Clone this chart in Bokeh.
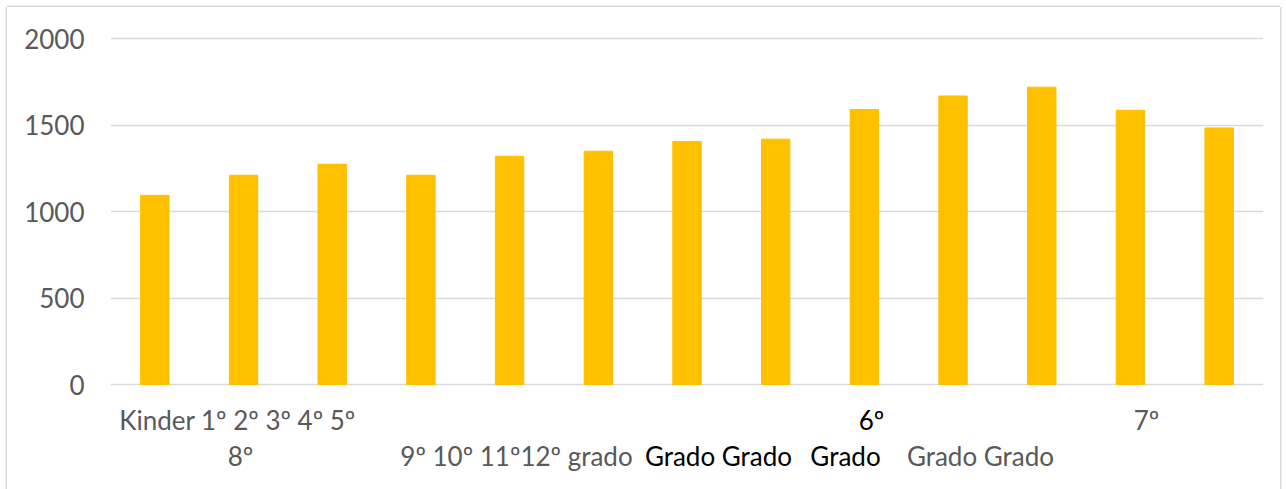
from bokeh.plotting import figure
from bokeh.models import Range1d, Label, FactorRange
from bokeh.embed import file_html
from bokeh.resources import INLINE

# ---- data ----
categories = ["Kinder", "1º Grado", "2º Grado", "3º Grado", "4º Grado", "5º Grado",
              "6º Grado", "7º Grado", "8º Grado", "9º Grado", "10º Grado",
              "11º Grado", "12º grado"]
values = [1095, 1211, 1275, 1211, 1321, 1350, 1407, 1420, 1592, 1670, 1721, 1587, 1485]
y_ticks = [0, 500, 1000, 1500, 2000]

# category-axis label fragments as they appear (text, colour)
label_texts = ["Kinder 1º 2º 3º 4º 5º", "8º", "9º 10º 11º12º grado", "Grado Grado",
               "Grado", "6º", "Grado Grado", "7º"]
label_colors = ["#595959", "#595959", "#595959", "#000000",
                "#000000", "#000000", "#595959", "#595959"]

# ---- layout (page pixel positions of label centres / baselines) ----
label_cx = [237, 240, 516, 718, 845, 871, 980, 1146]
label_base = [419.5, 455.5, 455.5, 455.5, 455.5, 419.5, 455.5, 419.5]

OFF = 7                       # figure offset on the page
W, H = 1273, 482
FRAME_LEFT, FRAME_TOP, FRAME_RIGHT, FRAME_BOTTOM = 110, 35, 1263, 480   # page coords
ZERO_Y = 384                  # page y of value 0
Y_TOP = 2020
PX_PER_UNIT = (ZERO_Y - FRAME_TOP) / Y_TOP
Y_BOTTOM = -(FRAME_BOTTOM - ZERO_Y) / PX_PER_UNIT
PX_PER_CAT = (FRAME_RIGHT - FRAME_LEFT) / len(categories)
FONT = "Lato"
GRAY = "#595959"

p = figure(width=W, height=H, x_range=FactorRange(*categories),
           y_range=Range1d(Y_BOTTOM, Y_TOP),
           output_backend="svg", toolbar_location=None,
           min_border_left=FRAME_LEFT - OFF, min_border_right=W - (FRAME_RIGHT - OFF),
           min_border_top=FRAME_TOP - OFF, min_border_bottom=H - (FRAME_BOTTOM - OFF))

p.vbar(x=categories, top=values, bottom=0, width=0.32, color="#FFC000")

p.xaxis.visible = False
p.xgrid.grid_line_color = None
p.ygrid.grid_line_color = "#D9D9D9"
p.ygrid.grid_line_width = 1.5
p.yaxis.ticker = y_ticks
p.yaxis.axis_line_color = None
p.yaxis.major_tick_line_color = None
p.yaxis.minor_tick_line_color = None
p.yaxis.major_tick_out = 0
p.yaxis.major_tick_in = 0
p.yaxis.major_label_standoff = 26
p.yaxis.major_label_text_font = FONT
p.yaxis.major_label_text_font_size = "26px"
p.yaxis.major_label_text_color = GRAY
p.outline_line_color = None
p.background_fill_color = "white"
p.border_fill_color = "white"
p.styles = {"margin-left": f"{OFF}px", "margin-top": f"{OFF}px",
            "box-shadow": "-1.5px 0 0 #D9D9D9, 1.5px 0 0 #D9D9D9, 0 -1.5px 0 #D9D9D9"}

for t, c, cx, by in zip(label_texts, label_colors, label_cx, label_base):
    p.add_layout(Label(x=(cx - FRAME_LEFT) / PX_PER_CAT, y=-(by - ZERO_Y) / PX_PER_UNIT,
                       text=t, text_color=c, text_font=FONT, text_font_size="26px",
                       text_align="center", text_baseline="alphabetic"))

open("out.html", "w").write(file_html(p, INLINE))
